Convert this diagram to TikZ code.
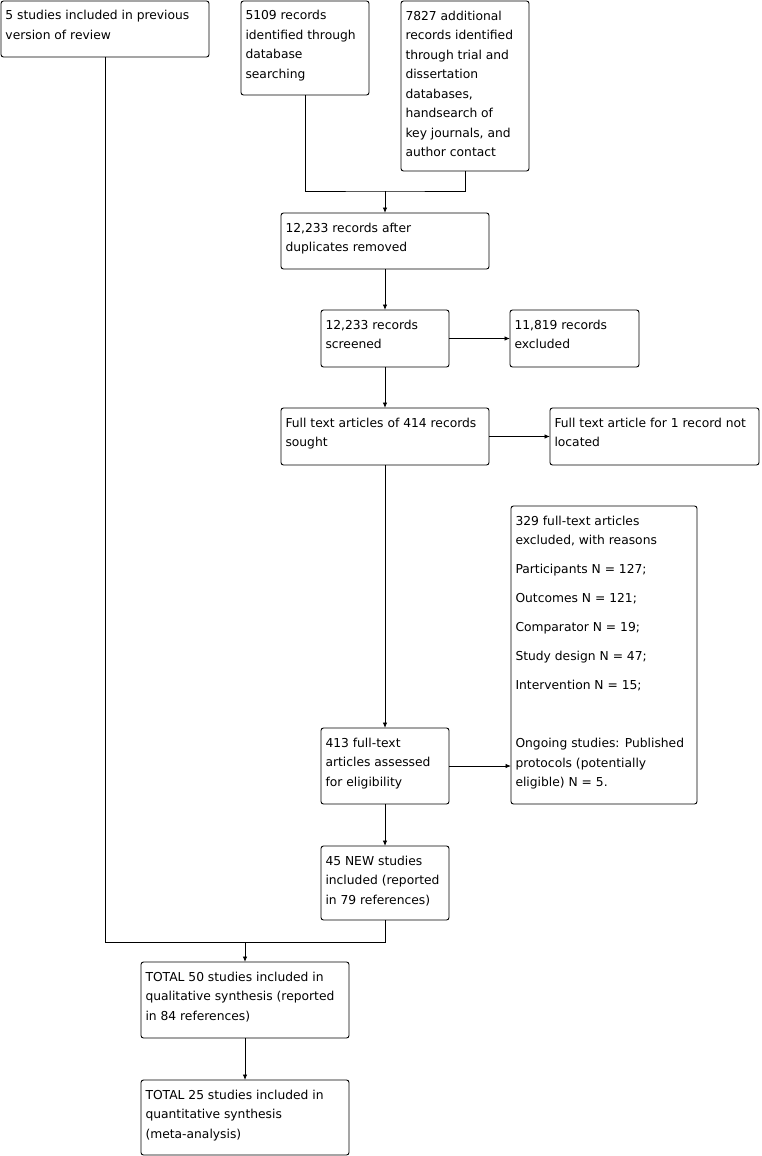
\documentclass[tikz,border=0pt]{standalone}
\usepackage{fontspec}
\setmainfont{DejaVu Sans}
\usetikzlibrary{arrows.meta}
\newcommand\bt[3]{\parbox[c][#2pt][t]{#1pt}{\fontsize{12.3pt}{19.5pt}\selectfont\raggedright\leftskip=4.5pt\rule{0pt}{19pt}#3}}
\tikzset{
  box/.style={draw, line width=0.9pt, rounded corners=2.5pt, inner sep=0pt, outer sep=0pt, anchor=north west},
  link/.style={line width=0.9pt},
  arr/.style={line width=0.9pt, -{Latex[length=5.5pt,width=4.5pt]}}
}
\begin{document}
\begin{tikzpicture}[x=1pt,y=-1pt]
\useasboundingbox (0,0) rectangle (762,1156);
\node[box] (A) at (1,1) {\bt{208}{56}{5 studies included in previous\\version of review}};
\node[box] (B) at (241,1) {\bt{128}{94}{5109 records\\identified through\\database\\searching}};
\node[box] (C) at (401,1) {\bt{128}{170}{7827 additional\\records identified\\through trial and\\dissertation\\databases,\\handsearch of\\key journals, and\\author contact}};
\node[box] (D) at (281,213) {\bt{208}{56}{12,233 records after\\duplicates removed}};
\node[box] (E) at (321,310) {\bt{128}{57}{12,233 records\\screened}};
\node[box] (F) at (510,310) {\bt{129}{57}{11,819 records\\excluded}};
\node[box] (G) at (281,408) {\bt{208}{57}{Full text articles of 414 records\\sought}};
\node[box] (H) at (550,408) {\bt{209}{57}{Full text article for 1 record not\\located}};
\node[box] (I) at (511,506) {\bt{186}{298}{329 full-text articles\\excluded, with reasons\\[9.5pt]Participants N = 127;\\[9.5pt]Outcomes N = 121;\\[9.5pt]Comparator N = 19;\\[9.5pt]Study design N = 47;\\[9.5pt]Intervention N = 15;\\[38.5pt]Ongoing studies: Published\\protocols (potentially\\eligible) N = 5.}};
\node[box] (J) at (321,728) {\bt{128}{76}{413 full-text\\articles assessed\\for eligibility}};
\node[box] (K) at (321,846) {\bt{128}{74}{45 NEW studies\\included (reported\\in 79 references)}};
\node[box] (L) at (141,962) {\bt{208}{76}{TOTAL 50 studies included in\\qualitative synthesis (reported\\in 84 references)}};
\node[box] (M) at (141,1080) {\bt{208}{75}{TOTAL 25 studies included in\\quantitative synthesis\\(meta-analysis)}};
\coordinate (m1) at (385,191);
\coordinate (m2) at (245,942);
\draw[link] (B.south) |- (m1) -| (C.south);
\draw[arr] (m1) -- (m1 |- D.north);
\draw[arr] (D.south) -- (E.north);
\draw[arr] (E.east) -- (F.west);
\draw[arr] (E.south) -- (G.north);
\draw[arr] (G.east) -- (H.west);
\draw[arr] (G.south) -- (J.north);
\draw[arr] (J.east) -- (J.east -| I.west);
\draw[arr] (J.south) -- (K.north);
\draw[link] (A.south) |- (m2) -| (K.south);
\draw[arr] (m2) -- (m2 |- L.north);
\draw[arr] (L.south) -- (M.north);
\end{tikzpicture}
\end{document}
